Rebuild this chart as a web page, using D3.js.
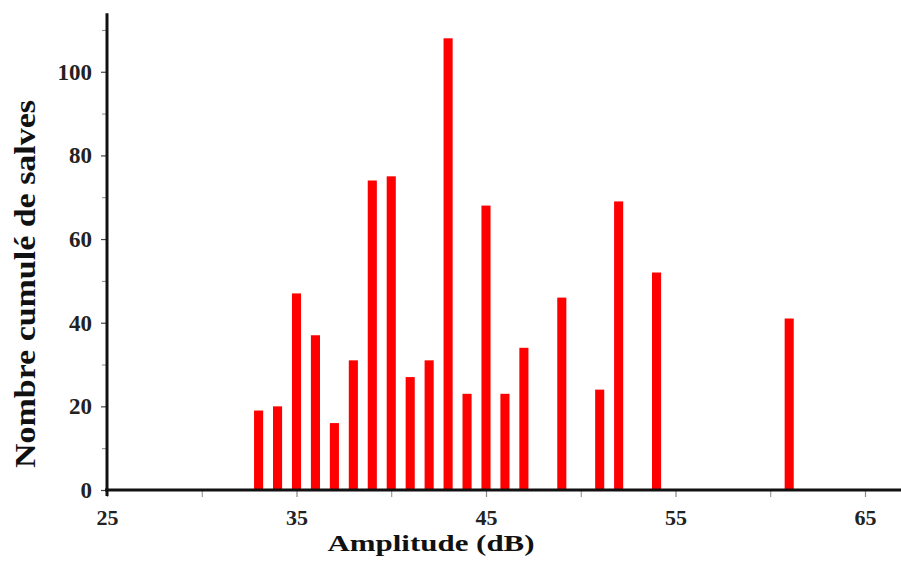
<!DOCTYPE html>
<html>
<head>
<meta charset="utf-8">
<script src="https://cdn.jsdelivr.net/npm/d3@7"></script>
<style>
  html, body { margin: 0; padding: 0; background: #fff; }
  svg { display: block; }
</style>
</head>
<body>
<svg id="chart" width="901" height="561"></svg>
<script>
// Data
const amplitudes = [33, 34, 35, 36, 37, 38, 39, 40, 41, 42, 43, 44, 45, 46, 47, 49, 51, 52, 54, 61];
const counts     = [19, 20, 47, 37, 16, 31, 74, 75, 27, 31, 108, 23, 68, 23, 34, 46, 24, 69, 52, 41];
const xMajorTicks = [25, 35, 45, 55, 65];
const xMinorTicks = [30, 40, 50, 60];
const yMajorTicks = [0, 20, 40, 60, 80, 100];
const yMinorTicks = [10, 30, 50, 70, 90, 110];
const xTitle = "Amplitude (dB)";
const yTitle = "Nombre cumulé de salves";

const data = amplitudes.map((a, i) => ({ a, c: counts[i] }));

const svg = d3.select("#chart");
const x = d3.scaleLinear().domain([25, 66.9]).range([107, 901]);
const y = d3.scaleLinear().domain([0, 114]).range([490, 13.2]);
const font = "'Liberation Serif', 'Times New Roman', serif";

// Bars
const halfW = 0.24;
svg.append("g").selectAll("rect").data(data).join("rect")
  .attr("x", d => x(d.a - halfW))
  .attr("width", d => x(d.a + halfW) - x(d.a - halfW))
  .attr("y", d => y(d.c))
  .attr("height", d => y(0) - y(d.c))
  .attr("fill", "#ff0000");

// Minor ticks
svg.append("g").attr("transform", `translate(0,${y(0)})`)
  .call(d3.axisBottom(x).tickValues(xMinorTicks).tickSize(7).tickFormat(""))
  .call(g => g.select(".domain").remove())
  .call(g => g.selectAll("line").attr("stroke", "#888").attr("stroke-width", 1));
svg.append("g").attr("transform", `translate(${x(25)},0)`)
  .call(d3.axisLeft(y).tickValues(yMinorTicks).tickSize(5).tickFormat(""))
  .call(g => g.select(".domain").remove())
  .call(g => g.selectAll("line").attr("stroke", "#888").attr("stroke-width", 1));

// Major ticks + labels
const gx = svg.append("g").attr("transform", `translate(0,${y(0)})`)
  .call(d3.axisBottom(x).tickValues(xMajorTicks).tickSize(7).tickPadding(20).tickFormat(d3.format("d")))
  .call(g => g.select(".domain").remove());
gx.selectAll("line").attr("stroke", "#888").attr("stroke-width", 1.2);
gx.selectAll("text").attr("font-family", font).attr("font-size", 22)
  .attr("fill", "#222").attr("dy", "0.35em").attr("font-weight", "bold");

const gy = svg.append("g").attr("transform", `translate(${x(25)},0)`)
  .call(d3.axisLeft(y).tickValues(yMajorTicks).tickSize(6).tickPadding(9).tickFormat(d3.format("d")))
  .call(g => g.select(".domain").remove());
gy.selectAll("line").attr("stroke", "#444").attr("stroke-width", 1.2);
gy.selectAll("text").attr("font-family", font).attr("font-size", 23)
  .attr("fill", "#222").attr("font-weight", "bold");

// Axis lines
svg.append("line")
  .attr("x1", x(25)).attr("x2", x(25))
  .attr("y1", y(114)).attr("y2", y(0) + 6)
  .attr("stroke", "#111").attr("stroke-width", 3);
svg.append("line")
  .attr("x1", x(25) - 2).attr("x2", x(66.9))
  .attr("y1", y(0)).attr("y2", y(0))
  .attr("stroke", "#111").attr("stroke-width", 3);

// Axis titles
svg.append("text")
  .attr("x", 431).attr("y", 551)
  .attr("text-anchor", "middle")
  .attr("font-family", font).attr("font-weight", "bold").attr("font-size", 24)
  .attr("fill", "#111")
  .attr("textLength", 207).attr("lengthAdjust", "spacingAndGlyphs")
  .text(xTitle);

svg.append("text")
  .attr("transform", "translate(35,284) rotate(-90)")
  .attr("text-anchor", "middle")
  .attr("font-family", font).attr("font-weight", "bold").attr("font-size", 30)
  .attr("fill", "#111")
  .attr("textLength", 368).attr("lengthAdjust", "spacingAndGlyphs")
  .text(yTitle);
</script>
</body>
</html>
